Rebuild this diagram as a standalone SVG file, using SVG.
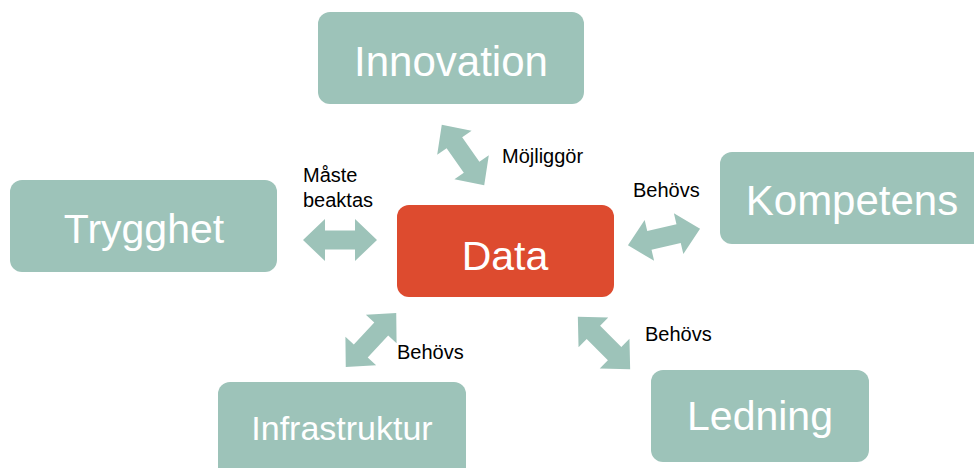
<svg xmlns="http://www.w3.org/2000/svg" width="974" height="468" viewBox="0 0 974 468">
<defs>
<style>
.n{fill:#9dc3b9}
.d{fill:#dd4b2f}
.t{font-family:"Liberation Sans",Arial,sans-serif;fill:#fff;text-anchor:middle;font-size:41px}
.l{font-family:"Liberation Sans",Arial,sans-serif;fill:#000;font-size:20px}
.a{fill:#9dc3b9}
</style>
<polygon id="arr" points="-37,0 -15,-21 -15,-9.5 15,-9.5 15,-21 37,0 15,21 15,9.5 -15,9.5 -15,21"/>
</defs>
<rect width="974" height="468" fill="#fff"/>
<g id="connectors" class="a">
<use href="#arr" transform="translate(463,155) rotate(55)"/>
<use href="#arr" transform="translate(340,240)"/>
<use href="#arr" transform="translate(664,237) rotate(-13)"/>
<use href="#arr" transform="translate(371,340) rotate(-47)"/>
<use href="#arr" transform="translate(604,343) rotate(45)"/>
</g>
<g id="labels" class="l">
<text x="502" y="163">Möjliggör</text>
<text x="303" y="182">Måste</text>
<text x="303" y="207">beaktas</text>
<text x="633" y="197">Behövs</text>
<text x="397" y="359">Behövs</text>
<text x="645" y="341">Behövs</text>
</g>
<g id="innovation"><rect class="n" x="318" y="12" width="266" height="92" rx="12"/><text class="t" x="451" y="76" style="font-size:42px">Innovation</text></g>
<g id="trygghet"><rect class="n" x="10" y="180" width="267" height="92" rx="12"/><text class="t" x="144" y="243">Trygghet</text></g>
<g id="kompetens"><rect class="n" x="720" y="152" width="270" height="92" rx="12"/><text class="t" x="852" y="215" style="font-size:42px">Kompetens</text></g>
<g id="data"><rect class="d" x="397" y="205" width="217" height="92" rx="12"/><text class="t" x="505" y="270">Data</text></g>
<g id="infrastruktur"><rect class="n" x="218" y="382" width="248" height="100" rx="12"/><text class="t" x="342" y="440" style="font-size:34px">Infrastruktur</text></g>
<g id="ledning"><rect class="n" x="651" y="370" width="218" height="92" rx="12"/><text class="t" x="760" y="430">Ledning</text></g>
</svg>
